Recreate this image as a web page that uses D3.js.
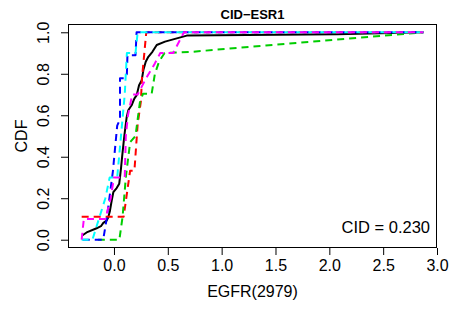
<!DOCTYPE html>
<html><head><meta charset="utf-8">
<script src="https://cdn.jsdelivr.net/npm/d3@7"></script>
<style>
html,body{margin:0;padding:0;background:#fff;}
svg{display:block;font-family:"Liberation Sans",Arial,sans-serif;}
</style></head>
<body>
<script>
// ---- data ----
const title = "CID\u2212ESR1";
const xLabel = "EGFR(2979)";
const yLabel = "CDF";
const note = "CID = 0.230";
const xTicks = [0, 0.5, 1, 1.5, 2, 2.5, 3];
const yTicks = [0, 0.2, 0.4, 0.6, 0.8, 1.0];

const blackX = [-0.295,-0.254,-0.161,-0.121,-0.099,-0.068,-0.053,-0.037,-0.021,-0.006,0.025,0.049,0.056,0.065,0.077,0.087,0.096,0.118,0.133,0.164,0.189,0.211,0.233,0.258,0.273,0.295,0.319,0.357,0.397,0.474,0.676,2.07,2.873];
const blackP = [0.02,0.035,0.055,0.065,0.081,0.092,0.108,0.14,0.189,0.229,0.249,0.27,0.302,0.343,0.407,0.456,0.5,0.591,0.624,0.648,0.68,0.697,0.745,0.769,0.818,0.858,0.882,0.906,0.939,0.955,0.984,0.99,1.0];

const redX = [-0.30,0.09,0.12,0.15,0.19,0.22,0.25,0.26,0.28,0.30,2.873];
const redP = [0.111,0.111,0.222,0.333,0.333,0.556,0.667,0.778,0.889,1.0,1.0];

const greenX = [-0.15,0.05,0.08,0.11,0.15,0.20,0.24,0.27,0.35,0.38,0.42,0.47,0.70,2.873];
const greenP = [0,0,0.11,0.3,0.47,0.5,0.66,0.704,0.704,0.8,0.86,0.9,0.905,1.0];

const blueX = [-0.29,-0.10,-0.065,-0.01,0.03,0.056,0.056,0.10,0.12,0.125,0.20,0.21,2.873];
const blueP = [0,0,0.11,0.33,0.55,0.58,0.778,0.778,0.80,0.889,0.889,1.0,1.0];

const cyanX = [-0.30,-0.20,-0.08,-0.04,0.03,0.10,0.12,0.20,0.22,2.873];
const cyanP = [0,0,0.2,0.3,0.3,0.7,0.9,0.9,1.0,1.0];

const magentaX = [-0.30,-0.28,-0.08,-0.03,0.0,0.10,0.11,0.13,0.17,0.22,0.30,0.38,0.43,0.55,0.65,2.873];
const magentaP = [0,0.1,0.1,0.2,0.3,0.3,0.5,0.6,0.7,0.7,0.78,0.85,0.9,0.9,1.0,1.0];

const seriesNames = ["black","red","green","blue","cyan","magenta"];
const seriesColors = ["#000000","#FF0000","#00CD00","#0000FF","#00FFFF","#FF00FF"];
const seriesX = [blackX, redX, greenX, blueX, cyanX, magentaX];
const seriesP = [blackP, redP, greenP, blueP, cyanP, magentaP];

// ---- layout ----
const W = 449, H = 309;
const L = 68, R = 437, T = 24, B = 248;
const svg = d3.select("body").append("svg").attr("width", W).attr("height", H);

const allX = seriesX.flat();
const [xmin, xmax] = d3.extent(allX);
const xpad = (xmax - xmin) * 0.04;
const x = d3.scaleLinear().domain([xmin - xpad, xmax + xpad]).range([L, R]);
const y = d3.scaleLinear().domain([-0.04, 1.04]).range([B, T]);

svg.append("clipPath").attr("id","c").append("rect")
  .attr("x", L).attr("y", T).attr("width", R - L).attr("height", B - T);

const g = svg.append("g").attr("clip-path","url(#c)");
const line = d3.line().x(d => x(d[0])).y(d => y(d[1]));
seriesNames.forEach((n, i) => {
  const pts = seriesX[i].map((v, j) => [v, seriesP[i][j]]);
  g.append("path").attr("d", line(pts))
    .attr("fill","none").attr("stroke", seriesColors[i])
    .attr("stroke-width", 2)
    .attr("stroke-linejoin","round")
    .attr("stroke-dasharray", i === 0 ? null : "7,5");
});

// box
svg.append("rect").attr("x", L + 0.5).attr("y", T + 0.5)
  .attr("width", R - L - 1).attr("height", B - T - 1)
  .attr("fill","none").attr("stroke","#000").attr("stroke-width",1);

// axes
const xAxis = d3.axisBottom(x).tickValues(xTicks).tickFormat(d3.format(".1f")).tickSize(7).tickPadding(5);
const xa = svg.append("g").attr("transform", `translate(0,${B})`).call(xAxis);
xa.select(".domain").remove();
xa.selectAll("text").attr("font-size", 16).attr("fill","#000").attr("font-family","Liberation Sans, Arial, sans-serif");

const yAxis = d3.axisLeft(y).tickValues(yTicks).tickFormat(d3.format(".1f")).tickSize(7).tickPadding(0);
const ya = svg.append("g").attr("transform", `translate(${L},0)`).call(yAxis);
ya.select(".domain").remove();
ya.selectAll("text")
  .attr("font-size", 16).attr("fill","#000").attr("font-family","Liberation Sans, Arial, sans-serif")
  .attr("text-anchor","middle").attr("dy", null)
  .attr("x", null).attr("y", null)
  .attr("transform", "translate(-19.5,0) rotate(-90)");

// titles
svg.append("text").attr("x", (L + R) / 2).attr("y", 19).attr("text-anchor","middle")
  .attr("font-size", 13).attr("font-weight","bold").text(title);
svg.append("text").attr("x", (L + R) / 2).attr("y", 297).attr("text-anchor","middle")
  .attr("font-size", 16).text(xLabel);
svg.append("text").attr("transform", `translate(27,${(T + B) / 2}) rotate(-90)`)
  .attr("text-anchor","middle").attr("font-size", 16).text(yLabel);
svg.append("text").attr("x", 430).attr("y", 233).attr("text-anchor","end")
  .attr("font-size", 16.5).text(note);
</script>
</body></html>
